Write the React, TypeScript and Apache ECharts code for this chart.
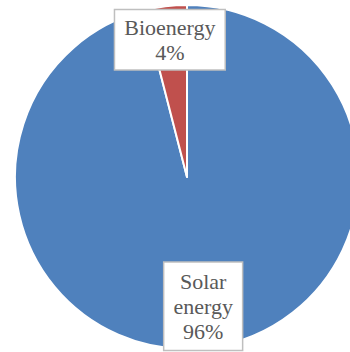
import React, { useEffect, useRef } from "react";
import * as echarts from "echarts";

const categories = ["Solar energy", "Bioenergy"];
const values = [96, 4];
const colors = ["#4F81BD", "#C0504D"];
const labelOffsets: number[][] = [
  [5, 41],
  [-6, -49],
];
const labelPaddings: number[][] = [
  [6, 9, 6, 9],
  [5, 9, 4, 9],
];

export default function App() {
  const ref = useRef<HTMLDivElement>(null);
  useEffect(() => {
    if (!ref.current) return;
    const chart = echarts.init(ref.current, undefined, { renderer: "svg" });
    chart.setOption({
      animation: false,
      backgroundColor: "#ffffff",
      series: [
        {
          type: "pie",
          center: [187, 177],
          radius: 172,
          startAngle: 90,
          clockwise: true,
          avoidLabelOverlap: false,
          labelLine: { show: false },
          itemStyle: { borderColor: "#ffffff", borderWidth: 2 },
          emphasis: { disabled: true },
          data: categories.map((name, i) => ({
            name,
            value: values[i],
            itemStyle: { color: colors[i] },
            label: { offset: labelOffsets[i], padding: labelPaddings[i] },
          })),
          label: {
            show: true,
            position: "inside",
            formatter: (p: any) =>
              p.name.replace(" ", "\n") + "\n" + Math.round(p.percent) + "%",
            color: "#595959",
            fontFamily: "Liberation Serif",
            fontSize: 22,
            lineHeight: 25,
            align: "center",
            backgroundColor: "#ffffff",
            borderColor: "#BFBFBF",
            borderWidth: 1.5,
          },
        },
      ],
    });
    return () => chart.dispose();
  }, []);
  return (
    <div
      ref={ref}
      style={{ position: "absolute", left: 0, top: 0, width: 350, height: 352 }}
    />
  );
}
